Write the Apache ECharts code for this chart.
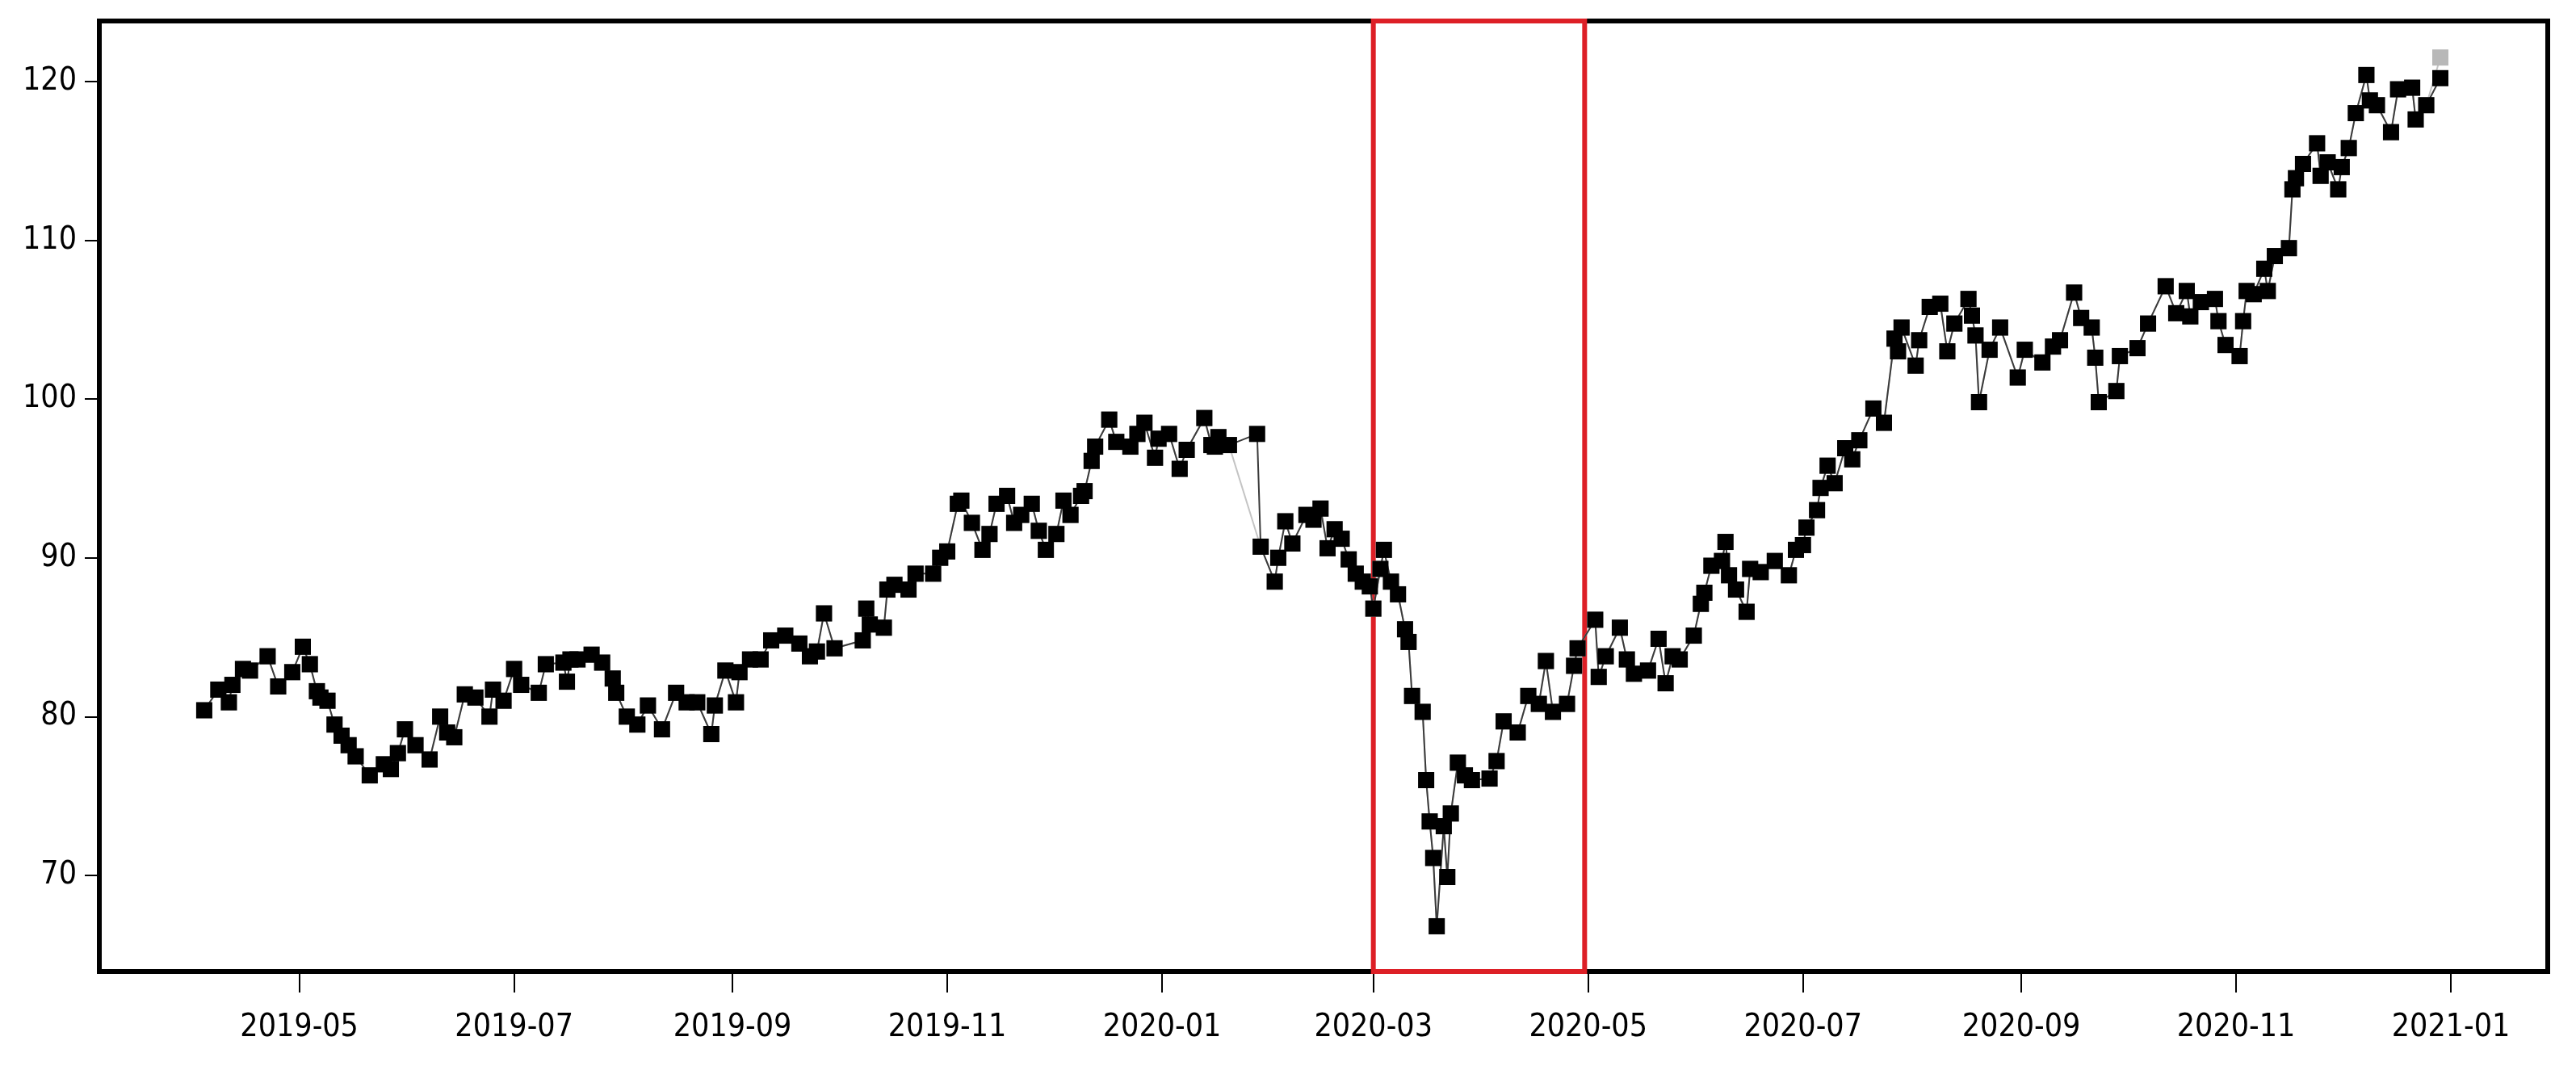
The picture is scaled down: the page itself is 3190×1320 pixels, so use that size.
<!DOCTYPE html>
<html>
<head>
<meta charset="utf-8">
<title>Price chart</title>
<script src="https://cdn.jsdelivr.net/npm/echarts@6/dist/echarts.min.js"></script>
<style>
  html, body { margin: 0; padding: 0; background: #fff; }
  #chart { width: 3190px; height: 1320px; }
</style>
</head>
<body>
<div id="chart"></div>
<script>
// dates of the black series
const dates = [
  '2019-04-04', '2019-04-08', '2019-04-11', '2019-04-12', '2019-04-15', '2019-04-17', '2019-04-22', '2019-04-25', '2019-04-29',
  '2019-05-02', '2019-05-04', '2019-05-06', '2019-05-07', '2019-05-09', '2019-05-11', '2019-05-13', '2019-05-15', '2019-05-17',
  '2019-05-21', '2019-05-25', '2019-05-27', '2019-05-29', '2019-05-31',
  '2019-06-03', '2019-06-07', '2019-06-10', '2019-06-12', '2019-06-14', '2019-06-17', '2019-06-20', '2019-06-24', '2019-06-25', '2019-06-28',
  '2019-07-01', '2019-07-03', '2019-07-08', '2019-07-10', '2019-07-15', '2019-07-16', '2019-07-17', '2019-07-19', '2019-07-23',
  '2019-07-26', '2019-07-29', '2019-07-30',
  '2019-08-02', '2019-08-05', '2019-08-08', '2019-08-12', '2019-08-16', '2019-08-19', '2019-08-22', '2019-08-26', '2019-08-27', '2019-08-30',
  '2019-09-02', '2019-09-03', '2019-09-06', '2019-09-09', '2019-09-12', '2019-09-16', '2019-09-20', '2019-09-23', '2019-09-25',
  '2019-09-27', '2019-09-30',
  '2019-10-08', '2019-10-09', '2019-10-10', '2019-10-14', '2019-10-15', '2019-10-17', '2019-10-21', '2019-10-23', '2019-10-28', '2019-10-30',
  '2019-11-01', '2019-11-04', '2019-11-05', '2019-11-08', '2019-11-11', '2019-11-13', '2019-11-15', '2019-11-18', '2019-11-20',
  '2019-11-22', '2019-11-25', '2019-11-27', '2019-11-29',
  '2019-12-02', '2019-12-04', '2019-12-06', '2019-12-09', '2019-12-10', '2019-12-12', '2019-12-13', '2019-12-17', '2019-12-19',
  '2019-12-23', '2019-12-25', '2019-12-27', '2019-12-30', '2019-12-31',
  '2020-01-03', '2020-01-06', '2020-01-08', '2020-01-13', '2020-01-15', '2020-01-16', '2020-01-17', '2020-01-20', '2020-01-28', '2020-01-29',
  '2020-02-02', '2020-02-03', '2020-02-05', '2020-02-07', '2020-02-11', '2020-02-13', '2020-02-15', '2020-02-17', '2020-02-19',
  '2020-02-21', '2020-02-23', '2020-02-25', '2020-02-27', '2020-02-29',
  '2020-03-01', '2020-03-03', '2020-03-04', '2020-03-06', '2020-03-08', '2020-03-10', '2020-03-11', '2020-03-12', '2020-03-15',
  '2020-03-16', '2020-03-17', '2020-03-18', '2020-03-19', '2020-03-21', '2020-03-22', '2020-03-23', '2020-03-25', '2020-03-27', '2020-03-29',
  '2020-04-03', '2020-04-05', '2020-04-07', '2020-04-11', '2020-04-14', '2020-04-17', '2020-04-19', '2020-04-21', '2020-04-25',
  '2020-04-27', '2020-04-28',
  '2020-05-03', '2020-05-04', '2020-05-06', '2020-05-10', '2020-05-12', '2020-05-14', '2020-05-18', '2020-05-21', '2020-05-23',
  '2020-05-25', '2020-05-27', '2020-05-31',
  '2020-06-02', '2020-06-03', '2020-06-05', '2020-06-08', '2020-06-09', '2020-06-10', '2020-06-12', '2020-06-15', '2020-06-16',
  '2020-06-19', '2020-06-23', '2020-06-27', '2020-06-29',
  '2020-07-01', '2020-07-02', '2020-07-05', '2020-07-06', '2020-07-08', '2020-07-10', '2020-07-13', '2020-07-15', '2020-07-17',
  '2020-07-21', '2020-07-24', '2020-07-27', '2020-07-28', '2020-07-29',
  '2020-08-02', '2020-08-03', '2020-08-06', '2020-08-09', '2020-08-11', '2020-08-13', '2020-08-17', '2020-08-18', '2020-08-19',
  '2020-08-20', '2020-08-23', '2020-08-26', '2020-08-31',
  '2020-09-02', '2020-09-07', '2020-09-10', '2020-09-12', '2020-09-16', '2020-09-18', '2020-09-21', '2020-09-22', '2020-09-23',
  '2020-09-28', '2020-09-29',
  '2020-10-04', '2020-10-07', '2020-10-12', '2020-10-15', '2020-10-18', '2020-10-19', '2020-10-22', '2020-10-26', '2020-10-27', '2020-10-29',
  '2020-11-02', '2020-11-03', '2020-11-04', '2020-11-06', '2020-11-09', '2020-11-10', '2020-11-12', '2020-11-16', '2020-11-17',
  '2020-11-18', '2020-11-20', '2020-11-24', '2020-11-25', '2020-11-27', '2020-11-30',
  '2020-12-01', '2020-12-03', '2020-12-05', '2020-12-08', '2020-12-09', '2020-12-11', '2020-12-15', '2020-12-17', '2020-12-21',
  '2020-12-22', '2020-12-25', '2020-12-29'
]

const values = [
  80.4, 81.7, 80.9, 82.0, 83.0, 82.9, 83.8, 81.9, 82.8,
  84.4, 83.3, 81.6, 81.2, 81.0, 79.5, 78.8, 78.2, 77.5,
  76.3, 77.0, 76.7, 77.7, 79.2,
  78.2, 77.3, 80.0, 79.0, 78.7, 81.4, 81.2, 80.0, 81.7, 81.0,
  83.0, 82.0, 81.5, 83.3, 83.4, 82.2, 83.6, 83.6, 83.9,
  83.4, 82.4, 81.5,
  80.0, 79.5, 80.7, 79.2, 81.5, 80.9, 80.9, 78.9, 80.7, 82.9,
  80.9, 82.8, 83.6, 83.6, 84.8, 85.1, 84.6, 83.8, 84.1,
  86.5, 84.3,
  84.8, 86.8, 85.8, 85.6, 88.0, 88.3, 88.0, 89.0, 89.0, 90.0,
  90.4, 93.4, 93.6, 92.2, 90.5, 91.5, 93.4, 93.9, 92.2,
  92.7, 93.4, 91.7, 90.5,
  91.5, 93.6, 92.7, 93.9, 94.2, 96.1, 97.0, 98.7, 97.3,
  97.0, 97.8, 98.5, 96.3, 97.5,
  97.8, 95.6, 96.8, 98.8, 97.1, 97.0, 97.6, 97.1, 97.8, 90.7,
  88.5, 90.0, 92.3, 90.9, 92.7, 92.4, 93.1, 90.6, 91.8,
  91.2, 89.9, 89.0, 88.5, 88.2,
  86.8, 89.3, 90.5, 88.5, 87.7, 85.5, 84.7, 81.3, 80.3,
  76.0, 73.4, 71.1, 66.8, 73.1, 69.9, 73.9, 77.1, 76.3, 76.0,
  76.1, 77.2, 79.7, 79.0, 81.3, 80.8, 83.5, 80.3, 80.8,
  83.2, 84.3,
  86.1, 82.5, 83.8, 85.6, 83.6, 82.7, 82.9, 84.9, 82.1,
  83.8, 83.6, 85.1,
  87.1, 87.8, 89.5, 89.8, 91.0, 88.9, 88.0, 86.6, 89.3,
  89.1, 89.8, 88.9, 90.5,
  90.8, 91.9, 93.0, 94.4, 95.8, 94.7, 96.9, 96.2, 97.4,
  99.4, 98.5, 103.8, 103.0, 104.5,
  102.1, 103.7, 105.8, 106.0, 103.0, 104.75, 106.3, 105.25, 104.0,
  99.8, 103.1, 104.5, 101.35,
  103.1, 102.3, 103.3, 103.7, 106.7, 105.1, 104.5, 102.6, 99.8,
  100.5, 102.7,
  103.2, 104.75, 107.1, 105.4, 106.8, 105.2, 106.1, 106.3, 104.9, 103.4,
  102.7, 104.9, 106.8, 106.6, 108.2, 106.8, 109.0, 109.5, 113.2,
  113.9, 114.8, 116.1, 114.05, 114.9, 113.2,
  114.6, 115.8, 118.0, 120.4, 118.8, 118.5, 116.8, 119.5, 119.6,
  117.6, 118.5, 120.2
]

// the grey series runs under the black one; these are the spots where it shows
const greySkip = ['2020-01-28']
const greyOverride = { '2020-12-29': 121.5 }

const xTicks = ['2019-05', '2019-07', '2019-09', '2019-11', '2020-01', '2020-03',
  '2020-05', '2020-07', '2020-09', '2020-11', '2021-01']
const yTicks = [70, 80, 90, 100, 110, 120]

// red box
const boxStart = '2020-03-01'
const boxEnd = '2020-04-30'

// date string -> timestamp (local time)
function toTime(s) {
  const p = s.split(/[- :]/).map(Number)
  return new Date(p[0], p[1] - 1, p[2] || 1, p[3] || 0).getTime()
}

const blackData = dates.map((d, i) => [toTime(d), values[i]])
const greyData = dates
  .map((d, i) => [d, greyOverride[d] !== undefined ? greyOverride[d] : values[i]])
  .filter(p => greySkip.indexOf(p[0]) < 0)
  .map(p => [toTime(p[0]), p[1]])

const font = "'DejaVu Sans Condensed', 'DejaVu Sans', sans-serif"

const chart = echarts.init(document.getElementById('chart'))
chart.setOption({
  animation: false,
  backgroundColor: '#fff',
  grid: {
    left: 123,
    right: 35,
    top: 26,
    bottom: 117,
    show: true,
    borderColor: '#000',
    borderWidth: 6,
    backgroundColor: '#fff'
  },
  // x is a value axis holding timestamps, so the month ticks can be placed exactly
  xAxis: {
    type: 'value',
    min: toTime('2019-03-05 05'),
    max: toTime('2021-01-28 12'),
    splitLine: { show: false },
    axisLine: { show: false },
    axisTick: {
      show: true,
      length: 26,
      customValues: xTicks.map(toTime),
      lineStyle: { color: '#000', width: 2 }
    },
    axisLabel: {
      customValues: xTicks.map(toTime),
      formatter: function (v) {
        const d = new Date(v)
        return d.getFullYear() + '-' + String(d.getMonth() + 1).padStart(2, '0')
      },
      fontFamily: font,
      fontSize: 39,
      color: '#000',
      margin: 50
    }
  },
  yAxis: {
    type: 'value',
    min: 63.95,
    max: 123.8,
    splitLine: { show: false },
    axisLine: { show: false },
    axisTick: {
      show: true,
      length: 18,
      customValues: yTicks,
      lineStyle: { color: '#000', width: 2 }
    },
    axisLabel: {
      customValues: yTicks,
      fontFamily: font,
      fontSize: 39,
      color: '#000',
      margin: 28
    }
  },
  series: [
    {
      name: 'grey',
      type: 'line',
      data: greyData,
      symbol: 'rect',
      symbolSize: 20,
      showAllSymbol: true,
      itemStyle: { color: '#b8b8b8' },
      lineStyle: { color: '#c4c4c4', width: 2 },
      z: 2
    },
    {
      name: 'black',
      type: 'line',
      data: blackData,
      symbol: 'rect',
      symbolSize: 20,
      showAllSymbol: true,
      itemStyle: { color: '#000' },
      lineStyle: { color: '#3a3a3a', width: 2 },
      z: 3
    },
    {
      name: 'box',
      type: 'line',
      data: [],
      z: 10,
      markArea: {
        silent: true,
        itemStyle: {
          color: 'rgba(0,0,0,0)',
          borderColor: '#dd1f26',
          borderWidth: 6
        },
        data: [[{ xAxis: toTime(boxStart) }, { xAxis: toTime(boxEnd) }]]
      }
    }
  ]
})
</script>
</body>
</html>
